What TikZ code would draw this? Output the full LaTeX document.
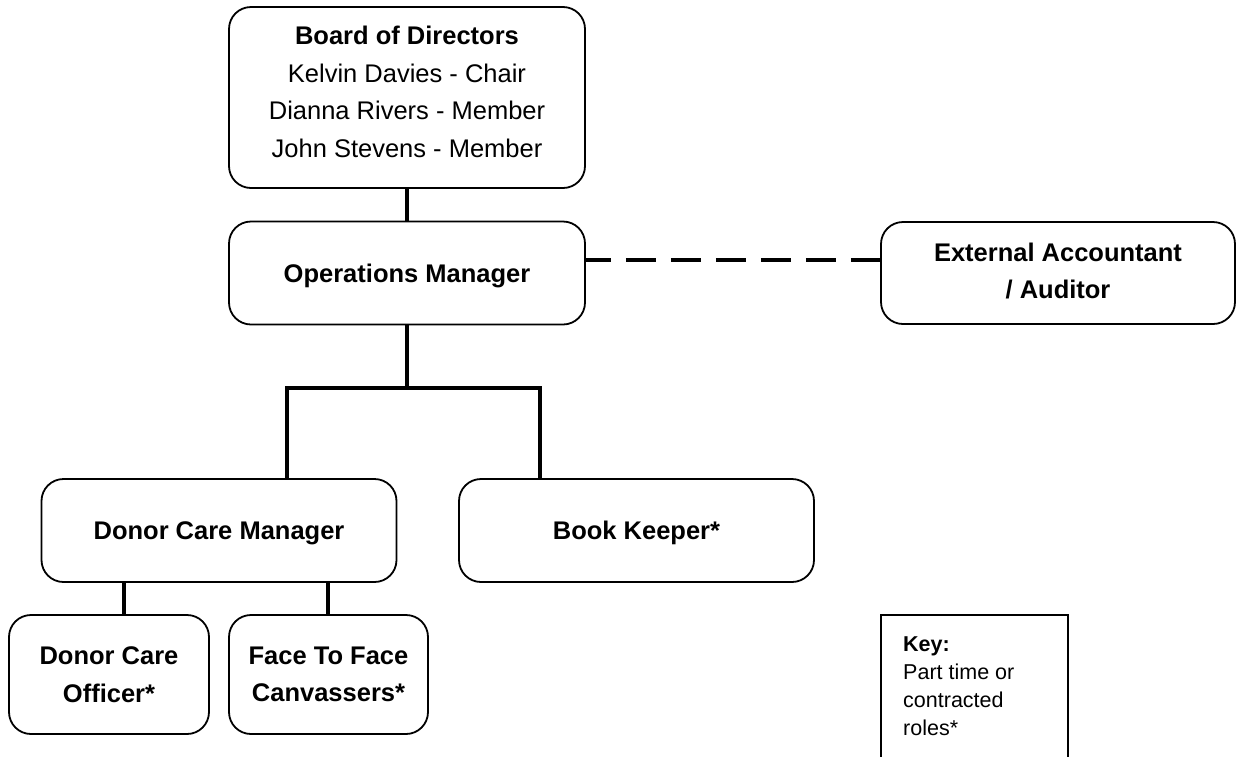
\documentclass[tikz,border=0pt]{standalone}
\usepackage{fontspec}
\setmainfont{Liberation Sans}
\begin{document}
\begin{tikzpicture}[x=1pt,y=-1pt,
  box/.style={draw, line width=1.8pt, rounded corners=22pt, align=center, inner sep=0pt,
    font=\fontsize{25.5}{37.5}\selectfont},
  oneline/.style={text depth=0pt},
  conn/.style={line width=4.5pt, line join=miter},
  dashline/.style={line width=4pt, dash pattern=on 30pt off 15pt, dash phase=5pt},
  keyframe/.style={line width=1.6pt},
  keytext/.style={anchor=north west, inner sep=0pt, align=left, font=\fontsize{21.5}{28}\selectfont}]
\clip (0,0) rectangle (1236,756);
\fill[white] (0,0) rectangle (1236,756);
% boxes
\node[box, minimum width=356pt, minimum height=181pt, text depth=11pt] (board) at (407,97.5)
  {\textbf{Board of Directors}\\Kelvin Davies - Chair\\Dianna Rivers - Member\\John Stevens - Member};
\node[box, oneline, minimum width=356pt, minimum height=103pt] (ops) at (407,273)
  {\textbf{Operations Manager}};
\node[box, minimum width=354pt, minimum height=102pt, text depth=4pt] (ext) at (1058,273)
  {\textbf{External Accountant}\\\textbf{/ Auditor}};
\node[box, oneline, minimum width=355pt, minimum height=103pt] (dcm) at (219,530.5)
  {\textbf{Donor Care Manager}};
\node[box, oneline, minimum width=355pt, minimum height=103pt] (bk) at (636.5,530.5)
  {\textbf{Book Keeper*}};
\node[box, minimum width=200pt, minimum height=119pt] (dco) at (109,674.5)
  {\textbf{Donor Care}\\\textbf{Officer*}};
\node[box, minimum width=199pt, minimum height=119pt] (f2f) at (328.5,674.5)
  {\textbf{Face To Face}\\\textbf{Canvassers*}};
% key
\coordinate (ktl) at (881,615);
\coordinate (ktr) at (1068,615);
\draw[keyframe] (ktl |- 0,760) -- (ktl) -- (ktr) -- (ktr |- 0,760);
\node[keytext] (key) at (903,636) {\textbf{Key:}\\Part time or\\contracted\\roles*};
% connectors
\coordinate (j) at (407,388);
\coordinate (jl) at (287,388);
\coordinate (jr) at (540,388);
\coordinate (cl) at (124,0);
\coordinate (cr) at (328,0);
\draw[conn] (board.south) -- (ops.north);
\draw[conn] (ops.south) -- (j);
\draw[conn] (jl |- dcm.north) -- (jl) -- (jr) -- (jr |- bk.north);
\draw[conn] (cl |- dcm.south) -- (cl |- dco.north);
\draw[conn] (cr |- dcm.south) -- (cr |- f2f.north);
\draw[dashline] ([yshift=13pt]ops.east) -- ([yshift=13pt]ext.west);
\end{tikzpicture}
\end{document}
